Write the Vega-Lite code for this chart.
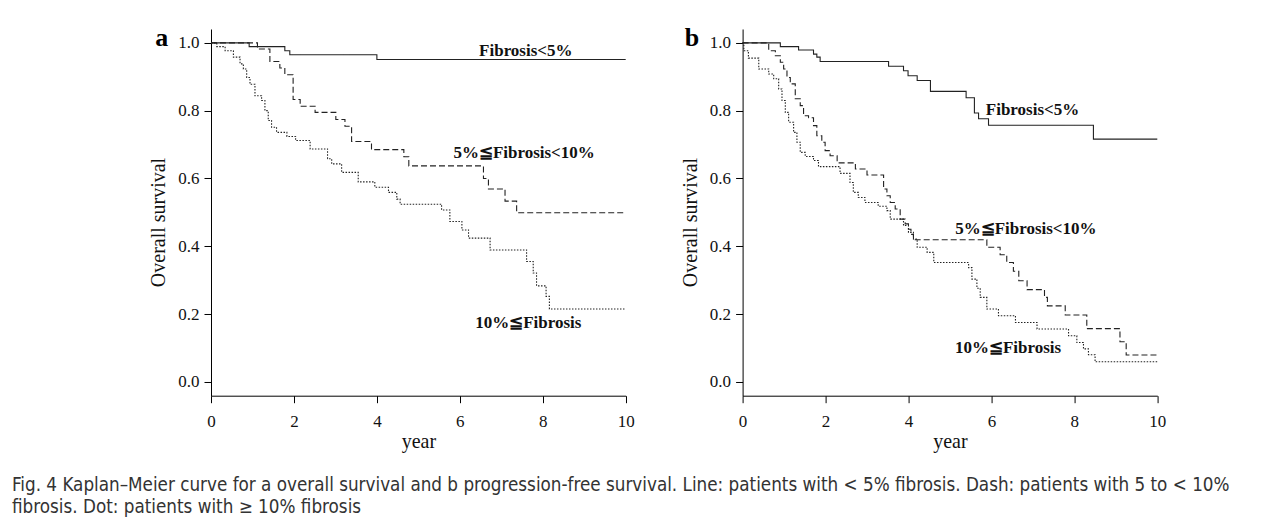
{
  "$schema": "https://vega.github.io/schema/vega-lite/v6.json",
  "background": "white",
  "padding": {"left": 12, "top": 24, "right": 5, "bottom": 5},
  "config": {
    "view": {"stroke": null},
    "axis": {"domainColor": "#000", "domainWidth": 1, "tickColor": "#000", "tickWidth": 1, "tickSize": 7, "labelFont": "Liberation Serif", "labelFontSize": 17, "labelColor": "#111", "titleFont": "Liberation Serif", "titleFontSize": 20, "titleFontWeight": "normal", "titleColor": "#111", "grid": false, "labelFlush": false, "labelOverlap": false}
  },
  "datasets": {
    "os": [
      {"group": "lt5", "year": 0, "survival": 1}, {"group": "lt5", "year": 0.92, "survival": 0.989}, {"group": "lt5", "year": 1.78, "survival": 0.977}, {"group": "lt5", "year": 1.9, "survival": 0.965}, {"group": "lt5", "year": 4.0, "survival": 0.951}, {"group": "lt5", "year": 10, "survival": 0.951},
      {"group": "mid", "year": 0, "survival": 1}, {"group": "mid", "year": 1.12, "survival": 0.982}, {"group": "mid", "year": 1.42, "survival": 0.945}, {"group": "mid", "year": 1.66, "survival": 0.926}, {"group": "mid", "year": 1.78, "survival": 0.906}, {"group": "mid", "year": 1.98, "survival": 0.833}, {"group": "mid", "year": 2.15, "survival": 0.813}, {"group": "mid", "year": 2.51, "survival": 0.795}, {"group": "mid", "year": 3.01, "survival": 0.774}, {"group": "mid", "year": 3.23, "survival": 0.754}, {"group": "mid", "year": 3.39, "survival": 0.709}, {"group": "mid", "year": 3.87, "survival": 0.685}, {"group": "mid", "year": 4.65, "survival": 0.664}, {"group": "mid", "year": 4.77, "survival": 0.637}, {"group": "mid", "year": 6.57, "survival": 0.6}, {"group": "mid", "year": 6.69, "survival": 0.569}, {"group": "mid", "year": 7.09, "survival": 0.533}, {"group": "mid", "year": 7.37, "survival": 0.499}, {"group": "mid", "year": 10, "survival": 0.499},
      {"group": "ge10", "year": 0, "survival": 1}, {"group": "ge10", "year": 0.14, "survival": 0.989}, {"group": "ge10", "year": 0.34, "survival": 0.977}, {"group": "ge10", "year": 0.54, "survival": 0.958}, {"group": "ge10", "year": 0.7, "survival": 0.938}, {"group": "ge10", "year": 0.78, "survival": 0.923}, {"group": "ge10", "year": 0.86, "survival": 0.898}, {"group": "ge10", "year": 0.94, "survival": 0.878}, {"group": "ge10", "year": 1.06, "survival": 0.844}, {"group": "ge10", "year": 1.22, "survival": 0.83}, {"group": "ge10", "year": 1.3, "survival": 0.8}, {"group": "ge10", "year": 1.38, "survival": 0.771}, {"group": "ge10", "year": 1.46, "survival": 0.751}, {"group": "ge10", "year": 1.58, "survival": 0.736}, {"group": "ge10", "year": 1.83, "survival": 0.724}, {"group": "ge10", "year": 2.04, "survival": 0.712}, {"group": "ge10", "year": 2.39, "survival": 0.687}, {"group": "ge10", "year": 2.81, "survival": 0.658}, {"group": "ge10", "year": 2.91, "survival": 0.643}, {"group": "ge10", "year": 3.15, "survival": 0.618}, {"group": "ge10", "year": 3.55, "survival": 0.59}, {"group": "ge10", "year": 3.95, "survival": 0.574}, {"group": "ge10", "year": 4.28, "survival": 0.559}, {"group": "ge10", "year": 4.48, "survival": 0.539}, {"group": "ge10", "year": 4.56, "survival": 0.524}, {"group": "ge10", "year": 5.56, "survival": 0.507}, {"group": "ge10", "year": 5.76, "survival": 0.473}, {"group": "ge10", "year": 6.05, "survival": 0.448}, {"group": "ge10", "year": 6.21, "survival": 0.424}, {"group": "ge10", "year": 6.73, "survival": 0.389}, {"group": "ge10", "year": 7.61, "survival": 0.355}, {"group": "ge10", "year": 7.77, "survival": 0.321}, {"group": "ge10", "year": 7.85, "survival": 0.283}, {"group": "ge10", "year": 8.08, "survival": 0.252}, {"group": "ge10", "year": 8.16, "survival": 0.215}, {"group": "ge10", "year": 10, "survival": 0.215}
    ],
    "pfs": [
      {"group": "lt5", "year": 0, "survival": 1}, {"group": "lt5", "year": 0.91, "survival": 0.989}, {"group": "lt5", "year": 1.35, "survival": 0.979}, {"group": "lt5", "year": 1.71, "survival": 0.967}, {"group": "lt5", "year": 1.79, "survival": 0.958}, {"group": "lt5", "year": 1.87, "survival": 0.945}, {"group": "lt5", "year": 3.52, "survival": 0.931}, {"group": "lt5", "year": 3.88, "survival": 0.918}, {"group": "lt5", "year": 3.99, "survival": 0.903}, {"group": "lt5", "year": 4.21, "survival": 0.889}, {"group": "lt5", "year": 4.53, "survival": 0.857}, {"group": "lt5", "year": 5.39, "survival": 0.838}, {"group": "lt5", "year": 5.59, "survival": 0.793}, {"group": "lt5", "year": 5.69, "survival": 0.776}, {"group": "lt5", "year": 5.93, "survival": 0.757}, {"group": "lt5", "year": 8.46, "survival": 0.716}, {"group": "lt5", "year": 10, "survival": 0.716},
      {"group": "mid", "year": 0, "survival": 1}, {"group": "mid", "year": 0.63, "survival": 0.977}, {"group": "mid", "year": 0.79, "survival": 0.962}, {"group": "mid", "year": 0.91, "survival": 0.943}, {"group": "mid", "year": 0.99, "survival": 0.923}, {"group": "mid", "year": 1.07, "survival": 0.898}, {"group": "mid", "year": 1.15, "survival": 0.879}, {"group": "mid", "year": 1.27, "survival": 0.835}, {"group": "mid", "year": 1.39, "survival": 0.815}, {"group": "mid", "year": 1.47, "survival": 0.785}, {"group": "mid", "year": 1.59, "survival": 0.779}, {"group": "mid", "year": 1.71, "survival": 0.756}, {"group": "mid", "year": 1.79, "survival": 0.726}, {"group": "mid", "year": 1.91, "survival": 0.707}, {"group": "mid", "year": 1.99, "survival": 0.682}, {"group": "mid", "year": 2.11, "survival": 0.667}, {"group": "mid", "year": 2.28, "survival": 0.646}, {"group": "mid", "year": 2.72, "survival": 0.628}, {"group": "mid", "year": 3.0, "survival": 0.61}, {"group": "mid", "year": 3.4, "survival": 0.569}, {"group": "mid", "year": 3.48, "survival": 0.549}, {"group": "mid", "year": 3.56, "survival": 0.529}, {"group": "mid", "year": 3.68, "survival": 0.51}, {"group": "mid", "year": 3.8, "survival": 0.48}, {"group": "mid", "year": 3.92, "survival": 0.466}, {"group": "mid", "year": 4.0, "survival": 0.45}, {"group": "mid", "year": 4.06, "survival": 0.435}, {"group": "mid", "year": 4.12, "survival": 0.419}, {"group": "mid", "year": 5.89, "survival": 0.397}, {"group": "mid", "year": 6.21, "survival": 0.375}, {"group": "mid", "year": 6.37, "survival": 0.352}, {"group": "mid", "year": 6.53, "survival": 0.326}, {"group": "mid", "year": 6.66, "survival": 0.298}, {"group": "mid", "year": 6.86, "survival": 0.272}, {"group": "mid", "year": 7.28, "survival": 0.249}, {"group": "mid", "year": 7.35, "survival": 0.224}, {"group": "mid", "year": 7.78, "survival": 0.197}, {"group": "mid", "year": 8.3, "survival": 0.157}, {"group": "mid", "year": 9.1, "survival": 0.118}, {"group": "mid", "year": 9.25, "survival": 0.079}, {"group": "mid", "year": 10, "survival": 0.079},
      {"group": "ge10", "year": 0, "survival": 1}, {"group": "ge10", "year": 0.03, "survival": 0.977}, {"group": "ge10", "year": 0.14, "survival": 0.955}, {"group": "ge10", "year": 0.39, "survival": 0.923}, {"group": "ge10", "year": 0.63, "survival": 0.908}, {"group": "ge10", "year": 0.75, "survival": 0.894}, {"group": "ge10", "year": 0.87, "survival": 0.864}, {"group": "ge10", "year": 0.95, "survival": 0.83}, {"group": "ge10", "year": 1.03, "survival": 0.795}, {"group": "ge10", "year": 1.11, "survival": 0.766}, {"group": "ge10", "year": 1.23, "survival": 0.736}, {"group": "ge10", "year": 1.31, "survival": 0.707}, {"group": "ge10", "year": 1.39, "survival": 0.677}, {"group": "ge10", "year": 1.51, "survival": 0.665}, {"group": "ge10", "year": 1.71, "survival": 0.653}, {"group": "ge10", "year": 1.83, "survival": 0.635}, {"group": "ge10", "year": 2.35, "survival": 0.615}, {"group": "ge10", "year": 2.59, "survival": 0.588}, {"group": "ge10", "year": 2.67, "survival": 0.559}, {"group": "ge10", "year": 2.79, "survival": 0.544}, {"group": "ge10", "year": 2.95, "survival": 0.529}, {"group": "ge10", "year": 3.27, "survival": 0.518}, {"group": "ge10", "year": 3.48, "survival": 0.505}, {"group": "ge10", "year": 3.56, "survival": 0.48}, {"group": "ge10", "year": 3.88, "survival": 0.461}, {"group": "ge10", "year": 4.0, "survival": 0.441}, {"group": "ge10", "year": 4.12, "survival": 0.421}, {"group": "ge10", "year": 4.21, "survival": 0.397}, {"group": "ge10", "year": 4.45, "survival": 0.382}, {"group": "ge10", "year": 4.61, "survival": 0.352}, {"group": "ge10", "year": 5.45, "survival": 0.337}, {"group": "ge10", "year": 5.53, "survival": 0.303}, {"group": "ge10", "year": 5.65, "survival": 0.276}, {"group": "ge10", "year": 5.73, "survival": 0.249}, {"group": "ge10", "year": 5.89, "survival": 0.215}, {"group": "ge10", "year": 6.17, "survival": 0.195}, {"group": "ge10", "year": 6.58, "survival": 0.175}, {"group": "ge10", "year": 7.1, "survival": 0.156}, {"group": "ge10", "year": 7.86, "survival": 0.136}, {"group": "ge10", "year": 8.06, "survival": 0.116}, {"group": "ge10", "year": 8.22, "survival": 0.097}, {"group": "ge10", "year": 8.34, "survival": 0.08}, {"group": "ge10", "year": 8.5, "survival": 0.059}, {"group": "ge10", "year": 10, "survival": 0.059}
    ],
    "osLabels": [
      {"label": "Fibrosis<5%", "year": 7.59, "survival": 0.962},
      {"label": "5%≦Fibrosis<10%", "year": 7.55, "survival": 0.661},
      {"label": "10%≦Fibrosis", "year": 7.65, "survival": 0.159}
    ],
    "pfsLabels": [
      {"label": "Fibrosis<5%", "year": 6.99, "survival": 0.788},
      {"label": "5%≦Fibrosis<10%", "year": 6.83, "survival": 0.437},
      {"label": "10%≦Fibrosis", "year": 6.4, "survival": 0.086}
    ]
  },
  "title": {
    "text": ["Fig. 4  Kaplan–Meier curve for a overall survival and b progression-free survival. Line: patients with < 5% fibrosis. Dash: patients with 5 to < 10%", "fibrosis. Dot: patients with ≥ 10% fibrosis"],
    "orient": "bottom", "anchor": "start", "frame": "group", "dx": -199, "offset": 24,
    "font": "Liberation Sans Narrow, DejaVu Sans Condensed, sans-serif", "fontSize": 18.7, "fontWeight": "normal", "color": "#333", "lineHeight": 22, "baseline": "top"
  },
  "spacing": 116.6,
  "bounds": "flush",
  "hconcat": [
    {
      "width": 414.7, "height": 366.7,
      "layer": [
        {
          "data": {"name": "os"},
          "mark": {"type": "line", "interpolate": "step-after", "color": "#222", "strokeWidth": 1.1},
          "encoding": {
            "x": {"field": "year", "type": "quantitative", "scale": {"domain": [0, 10], "nice": false}, "axis": {"values": [0, 2, 4, 6, 8, 10], "labelPadding": 11, "title": "year", "titlePadding": 2}},
            "y": {"field": "survival", "type": "quantitative", "scale": {"domain": [-0.041, 1.041], "nice": false, "zero": false}, "axis": {"values": [0, 0.2, 0.4, 0.6, 0.8, 1], "format": ".1f", "labelPadding": 5, "title": "Overall survival", "titlePadding": 9, "titleY": 193}},
            "strokeDash": {"field": "group", "type": "nominal", "scale": {"domain": ["lt5", "mid", "ge10"], "range": [[1, 0], [6, 3], [1.5, 1.5]]}, "legend": null}
          }
        },
        {
          "data": {"name": "osLabels"},
          "mark": {"type": "text", "font": "Liberation Serif", "fontWeight": "bold", "fontSize": 17, "align": "center", "baseline": "alphabetic", "color": "#111"},
          "encoding": {
            "x": {"field": "year", "type": "quantitative"},
            "y": {"field": "survival", "type": "quantitative"},
            "text": {"field": "label"}
          }
        },
        {
          "data": {"values": [{"panel": "a", "year": -1.19, "survival": 0.992}]},
          "mark": {"type": "text", "font": "Liberation Serif", "fontWeight": "bold", "fontSize": 26, "align": "center", "baseline": "alphabetic", "color": "#000"},
          "encoding": {
            "x": {"field": "year", "type": "quantitative"},
            "y": {"field": "survival", "type": "quantitative"},
            "text": {"field": "panel"}
          }
        }
      ]
    },
    {
      "width": 414.7, "height": 366.7,
      "layer": [
        {
          "data": {"name": "pfs"},
          "mark": {"type": "line", "interpolate": "step-after", "color": "#222", "strokeWidth": 1.1},
          "encoding": {
            "x": {"field": "year", "type": "quantitative", "scale": {"domain": [0, 10], "nice": false}, "axis": {"values": [0, 2, 4, 6, 8, 10], "labelPadding": 11, "title": "year", "titlePadding": 2}},
            "y": {"field": "survival", "type": "quantitative", "scale": {"domain": [-0.041, 1.041], "nice": false, "zero": false}, "axis": {"values": [0, 0.2, 0.4, 0.6, 0.8, 1], "format": ".1f", "labelPadding": 5, "title": "Overall survival", "titlePadding": 9, "titleY": 193}},
            "strokeDash": {"field": "group", "type": "nominal", "scale": {"domain": ["lt5", "mid", "ge10"], "range": [[1, 0], [6, 3], [1.5, 1.5]]}, "legend": null}
          }
        },
        {
          "data": {"name": "pfsLabels"},
          "mark": {"type": "text", "font": "Liberation Serif", "fontWeight": "bold", "fontSize": 17, "align": "center", "baseline": "alphabetic", "color": "#111"},
          "encoding": {
            "x": {"field": "year", "type": "quantitative"},
            "y": {"field": "survival", "type": "quantitative"},
            "text": {"field": "label"}
          }
        },
        {
          "data": {"values": [{"panel": "b", "year": -1.22, "survival": 0.992}]},
          "mark": {"type": "text", "font": "Liberation Serif", "fontWeight": "bold", "fontSize": 26, "align": "center", "baseline": "alphabetic", "color": "#000"},
          "encoding": {
            "x": {"field": "year", "type": "quantitative"},
            "y": {"field": "survival", "type": "quantitative"},
            "text": {"field": "panel"}
          }
        }
      ]
    }
  ]
}
